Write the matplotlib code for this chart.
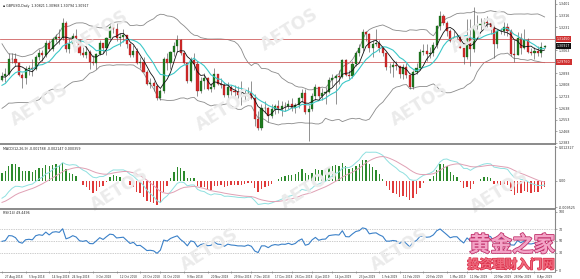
import numpy as np
import pandas as pd
import matplotlib
matplotlib.use("Agg")
import matplotlib.pyplot as plt
import matplotlib.patheffects as pe
import matplotlib.transforms as mtransforms
from matplotlib.lines import Line2D

plt.rcParams['font.family'] = ['DejaVu Sans']

# ---------------- data ----------------
symbol_title = "GBPUSD,Daily  1.30821 1.30968 1.30794 1.30917"
macd_title = "MACD(12,26,9) -0.001788 -0.002147 0.000359"
rsi_title = "RSI(14) 49.4496"

# closes before the first visible bar (only feed the indicators)
prior_close = [1.3125, 1.3175, 1.3205, 1.3230, 1.3275, 1.3240, 1.3245, 1.3220, 1.3195, 1.3230,
               1.3240, 1.3100, 1.3030, 1.2985, 1.3135, 1.3100, 1.3150, 1.3185, 1.3110, 1.3110,
               1.3125, 1.3120,
               1.3130, 1.2995, 1.2995, 1.2945, 1.2925, 1.2895, 1.2855, 1.2765, 1.2780, 1.2755,
               1.2705, 1.2720, 1.2745, 1.2790, 1.2900, 1.2895, 1.2820, 1.2845]

first_open = 1.2845
close = [
    # Aug 27 - 31
    1.2875, 1.2890, 1.3000, 1.2995, 1.2965,
    # Sep
    1.2880, 1.2855, 1.2925, 1.2935, 1.2925, 1.3015, 1.3040, 1.3030, 1.3115, 1.3070,
    1.3145, 1.3160, 1.3150, 1.3265, 1.3070, 1.3105, 1.3165, 1.3135, 1.3045, 1.3030,
    # Oct
    1.3050, 1.2975, 1.2970, 1.3035, 1.3115, 1.3075, 1.3150, 1.3230, 1.3220, 1.3150,
    1.3160, 1.3170, 1.3105, 1.3030, 1.3055, 1.2970, 1.2975, 1.2905, 1.2815, 1.2820,
    1.2800, 1.2710, 1.2765,
    # Nov
    1.3000, 1.2970, 1.3050, 1.3095, 1.3135, 1.3040, 1.2965, 1.2840, 1.2990, 1.2960,
    1.2760, 1.2835, 1.2860, 1.2780, 1.2790, 1.2885, 1.2815, 1.2805, 1.2735, 1.2795,
    1.2765, 1.2755,
    # Dec
    1.2735, 1.2735, 1.2725, 1.2750, 1.2715, 1.2560, 1.2495, 1.2640, 1.2640, 1.2580,
    1.2630, 1.2650, 1.2635, 1.2655, 1.2650, 1.2670, 1.2640, 1.2660, 1.2715, 1.2750,
    # Jan
    1.2610, 1.2630, 1.2725, 1.2790, 1.2725, 1.2750, 1.2755, 1.2845, 1.2860, 1.2870,
    1.2865, 1.2990, 1.2880, 1.2875, 1.2960, 1.3045, 1.3075, 1.3195, 1.3180, 1.3080,
    1.3105, 1.3115,
    # Feb
    1.3075, 1.3045, 1.2940, 1.2940, 1.2955, 1.2945, 1.2890, 1.2940, 1.2880, 1.2795,
    1.2900, 1.2935, 1.3050, 1.3060, 1.3035, 1.3045, 1.3100, 1.3240, 1.3315, 1.3260,
    # Mar
    1.3200, 1.3130, 1.3160, 1.3160, 1.3080, 1.3010, 1.3150, 1.3070, 1.3240, 1.3245,
    1.3255, 1.3270, 1.3260, 1.3235, 1.3110, 1.3205, 1.3200, 1.3230, 1.3200, 1.3035,
    1.3030,
    # Apr
    1.3150, 1.3080, 1.3140, 1.3050, 1.3040, 1.3060, 1.3045, 1.3082, 1.30917]

high = [
    1.2905, 1.2930, 1.3045, 1.3040, 1.3045,
    1.2975, 1.2895, 1.2945, 1.2955, 1.2995, 1.3030, 1.3070, 1.3065, 1.3140, 1.3140,
    1.3160, 1.3180, 1.3215, 1.3298, 1.3275, 1.3145, 1.3185, 1.3215, 1.3145, 1.3085,
    1.3095, 1.3065, 1.3030, 1.3045, 1.3135, 1.3115, 1.3160, 1.3245, 1.3255, 1.3260,
    1.3190, 1.3215, 1.3175, 1.3115, 1.3100, 1.3075, 1.3010, 1.3010, 1.2920, 1.2855,
    1.2840, 1.2815, 1.2780,
    1.3010, 1.3040, 1.3055, 1.3125, 1.3175, 1.3145, 1.3045, 1.2965, 1.3010, 1.3040,
    1.2985, 1.2865, 1.2895, 1.2865, 1.2820, 1.2930, 1.2890, 1.2855, 1.2830, 1.2830,
    1.2810, 1.2810,
    1.2800, 1.2840, 1.2770, 1.2790, 1.2840, 1.2740, 1.2620, 1.2670, 1.2690, 1.2645,
    1.2665, 1.2670, 1.2700, 1.2690, 1.2685, 1.2700, 1.2710, 1.2675, 1.2720, 1.2775,
    1.2775, 1.2660, 1.2750, 1.2815, 1.2795, 1.2785, 1.2790, 1.2865, 1.2890, 1.2890,
    1.2920, 1.3000, 1.3000, 1.2920, 1.2985, 1.3055, 1.3110, 1.3215, 1.3200, 1.3190,
    1.3135, 1.3215,
    1.3140, 1.3085, 1.3050, 1.2965, 1.2980, 1.2985, 1.2950, 1.2960, 1.2965, 1.2885,
    1.2920, 1.2965, 1.3070, 1.3110, 1.3110, 1.3085, 1.3120, 1.3250, 1.3350, 1.3325,
    1.3275, 1.3220, 1.3200, 1.3180, 1.3175, 1.3080, 1.3290, 1.3290, 1.3380, 1.3320,
    1.3300, 1.3295, 1.3315, 1.3290, 1.3245, 1.3210, 1.3225, 1.3270, 1.3260, 1.3220,
    1.3140,
    1.3195, 1.3185, 1.3215, 1.3155, 1.3075, 1.3085, 1.3095, 1.3120, 1.30968]

low = [
    1.2840, 1.2830, 1.2880, 1.2965, 1.2950,
    1.2870, 1.2785, 1.2815, 1.2880, 1.2870, 1.2920, 1.2990, 1.2985, 1.3010, 1.3055,
    1.3060, 1.3120, 1.3105, 1.3140, 1.3050, 1.3045, 1.3090, 1.3120, 1.3030, 1.3010,
    1.3005, 1.2925, 1.2955, 1.2925, 1.3025, 1.3040, 1.3030, 1.3140, 1.3185, 1.3130,
    1.3090, 1.3120, 1.3080, 1.3010, 1.3010, 1.2960, 1.2935, 1.2900, 1.2810, 1.2785,
    1.2765, 1.2695, 1.2700,
    1.2745, 1.2915, 1.2925, 1.3020, 1.3050, 1.3030, 1.2960, 1.2825, 1.2830, 1.2915,
    1.2725, 1.2750, 1.2780, 1.2770, 1.2755, 1.2780, 1.2805, 1.2785, 1.2720, 1.2700,
    1.2735, 1.2725,
    1.2715, 1.2660, 1.2690, 1.2700, 1.2705, 1.2505, 1.2475, 1.2480, 1.2600, 1.2535,
    1.2565, 1.2595, 1.2605, 1.2580, 1.2615, 1.2630, 1.2615, 1.2605, 1.2640, 1.2685,
    1.2595, 1.2400, 1.2620, 1.2700, 1.2710, 1.2700, 1.2670, 1.2745, 1.2800, 1.2670,
    1.2815, 1.2855, 1.2870, 1.2850, 1.2860, 1.2950, 1.3020, 1.3060, 1.3130, 1.3050,
    1.3010, 1.3090,
    1.3050, 1.3020, 1.2920, 1.2895, 1.2865, 1.2920, 1.2855, 1.2850, 1.2860, 1.2775,
    1.2780, 1.2890, 1.2920, 1.3030, 1.2985, 1.3005, 1.3020, 1.3080, 1.3210, 1.3245,
    1.3165, 1.3120, 1.3105, 1.3125, 1.3075, 1.2960, 1.3000, 1.2945, 1.3050, 1.3185,
    1.3210, 1.3225, 1.3230, 1.3180, 1.3005, 1.3080, 1.3180, 1.3170, 1.3165, 1.3020,
    1.2975,
    1.3030, 1.3035, 1.3070, 1.3040, 1.3025, 1.3000, 1.3020, 1.3015, 1.30794]

x_label_dates = ["2018-08-27", "2018-09-05", "2018-09-14", "2018-09-24", "2018-10-03",
                 "2018-10-12", "2018-10-23", "2018-10-31", "2018-11-09", "2018-11-20",
                 "2018-11-29", "2018-12-07", "2018-12-17", "2018-12-26", "2019-01-04",
                 "2019-01-14", "2019-01-23", "2019-02-01", "2019-02-11", "2019-02-20",
                 "2019-03-01", "2019-03-11", "2019-03-20", "2019-03-28", "2019-04-08"]
x_label_text = ["27 Aug 2018", "5 Sep 2018", "14 Sep 2018", "24 Sep 2018", "3 Oct 2018",
                "12 Oct 2018", "23 Oct 2018", "31 Oct 2018", "9 Nov 2018", "20 Nov 2018",
                "29 Nov 2018", "7 Dec 2018", "17 Dec 2018", "26 Dec 2018", "4 Jan 2019",
                "14 Jan 2019", "23 Jan 2019", "1 Feb 2019", "11 Feb 2019", "20 Feb 2019",
                "1 Mar 2019", "11 Mar 2019", "20 Mar 2019", "28 Mar 2019", "8 Apr 2019"]

price_ticks = [1.3401, 1.3316, 1.3231, 1.3063, 1.2893, 1.2808, 1.2723, 1.2638, 1.2553, 1.2468, 1.2383]
price_tick_text = ["1.3401", "1.3316", "1.3231", "1.3063", "1.2893", "1.2808", "1.2723",
                   "1.2638", "1.2553", "1.2468", "1.2383"]
resistance = 1.3145
support = 1.2976
last_price = 1.30917
macd_ticks = [0.012327, 0.0, -0.009525]
macd_tick_text = ["0.012327", "0.00", "-0.009525"]
rsi_ticks = [100, 70, 50, 30, 0]
rsi_levels = [70, 50, 30]

# ---------------- indicators ----------------
n = len(close)
opens = [first_open] + close[:-1]
c_all = pd.Series(prior_close + close)
n0 = len(prior_close)
mid = c_all.rolling(20).mean()
sd = c_all.rolling(20).std(ddof=0)
bb_up = (mid + 2 * sd).iloc[n0:].values
bb_lo = (mid - 2 * sd).iloc[n0:].values
ma_fast = c_all.rolling(5).mean().iloc[n0:].values
ma_slow = c_all.rolling(10).mean().iloc[n0:].values
ema12 = c_all.ewm(span=12, adjust=False).mean()
ema26 = c_all.ewm(span=26, adjust=False).mean()
dif = ema12 - ema26
dea = dif.ewm(span=9, adjust=False).mean()
bar_v = (2 * (dif - dea)).iloc[n0:].values
dif_v = dif.iloc[n0:].values
dea_v = dea.iloc[n0:].values
d = c_all.diff()
ag = d.clip(lower=0).ewm(alpha=1 / 14, adjust=False).mean()
al = (-d.clip(upper=0)).ewm(alpha=1 / 14, adjust=False).mean()
rsi = (100 - 100 / (1 + ag / al)).iloc[n0:].values

dates = pd.bdate_range("2018-08-27", "2019-04-30")
dates = dates[~dates.isin(pd.to_datetime(["2018-12-25", "2019-01-01"]))][:n]
x = np.arange(n)

# ---------------- figure ----------------
W, H = 580, 279
fig = plt.figure(figsize=(W / 100, H / 100), dpi=100)
fig.patch.set_facecolor("white")
PW = 555


def box(y0, y1):
    return [0, 1 - y1 / H, PW / W, (y1 - y0) / H]


ax1 = fig.add_axes(box(0, 144))
ax2 = fig.add_axes(box(146, 208))
ax3 = fig.add_axes(box(210, 271))

px = 3.37
xlim = (-2 / px, (PW - 2) / px)
fs = 2.3
fsx = 2.0
tick_col = "#333333"

# watermark AETOS
wm_pos = [(100, 32), (290, 30), (480, 32), (40, 105), (225, 110), (420, 105),
          (120, 190), (310, 188), (500, 192), (210, 250), (400, 250)]
for (wx, wy) in wm_pos:
    fig.text(wx / W, 1 - wy / H, "AETOS", fontsize=12.5, fontweight="bold", color="#ebebeb",
             rotation=32, ha="center", va="center", zorder=0)

for ax in (ax1, ax2, ax3):
    ax.set_facecolor("none")
    ax.set_xlim(*xlim)
    for s in ("top", "left", "bottom"):
        ax.spines[s].set_visible(False)
    ax.spines["right"].set_color("#888888")
    ax.spines["right"].set_linewidth(0.8)
    ax.yaxis.tick_right()
    ax.tick_params(axis="y", labelsize=fs, length=1.5, width=0.4, pad=1, colors="#666666",
                   labelcolor=tick_col)
    ax.tick_params(axis="x", length=0, labelbottom=False)

# ----- main price panel -----
ax1.set_ylim(1.2375, 1.3430)
ax1.plot(x, bb_up, color="#8a8a8a", lw=0.6)
ax1.plot(x, bb_lo, color="#8a8a8a", lw=0.6)
ax1.axhline(resistance, color="#d06060", lw=0.6)
ax1.axhline(support, color="#d06060", lw=0.6)
o = np.array(opens); c = np.array(close); hi = np.array(high); lo = np.array(low)
up = c >= o
ax1.vlines(x, lo, hi, color="#555555", lw=0.45, zorder=3)
ax1.bar(x[up], (c - o)[up], bottom=o[up], width=0.62, color="#1f7a1f", edgecolor="#155015",
        linewidth=0.2, zorder=4)
ax1.bar(x[~up], (c - o)[~up], bottom=o[~up], width=0.62, color="#d42a2a", edgecolor="#8a1515",
        linewidth=0.2, zorder=4)
ax1.plot(x, ma_slow, color="#3cc8c8", lw=0.8, zorder=5)
ax1.plot(x, ma_fast, color="#111111", lw=0.6, zorder=6)
ax1.set_yticks(price_ticks)
ax1.set_yticklabels(price_tick_text)
for val, fc in ((resistance, "#d03030"), (support, "#d03030"), (last_price, "#111111")):
    ax1.annotate(f"{val:.5f}", xy=(1.0, val), xycoords=("axes fraction", "data"),
                 xytext=(1.5, 0), textcoords="offset points", fontsize=fs, color="white",
                 va="center", ha="left", annotation_clip=False,
                 bbox=dict(boxstyle="square,pad=0.25", fc=fc, ec="none"))
ax1.text(0.006, 0.972, "\u25aa " + symbol_title, transform=ax1.transAxes, fontsize=fs,
         color="#222222", va="top", ha="left")

# ----- MACD panel -----
ax2.set_ylim(-0.00979, 0.01269)
hc = np.where(bar_v >= 0, "#2c8a2c", "#e03a3a")
ax2.bar(x, bar_v, width=0.4, color=hc, zorder=3)
ax2.plot(x, dif_v, color="#8fe0e0", lw=0.7, zorder=4)
ax2.plot(x, dea_v, color="#e0a0b4", lw=0.7, zorder=4)
ax2.set_yticks(macd_ticks)
ax2.set_yticklabels(macd_tick_text)
ax2.text(0.006, 0.985, macd_title, transform=ax2.transAxes, fontsize=fs, color="#222222",
         va="top", ha="left")

# ----- RSI panel -----
ax3.set_ylim(-1.7, 103.4)
for lv in rsi_levels:
    ax3.axhline(lv, color="#999999", lw=0.5, ls=(0, (1, 1.5)))
ax3.plot(x, rsi, color="#3a80c8", lw=0.8, zorder=4)
ax3.set_yticks(rsi_ticks)
ax3.set_yticklabels([str(t) for t in rsi_ticks])
ax3.text(0.006, 0.985, rsi_title, transform=ax3.transAxes, fontsize=fs, color="#222222",
         va="top", ha="left")
xt = [int(np.searchsorted(dates, pd.Timestamp(dd))) for dd in x_label_dates]
ax3.set_xticks(xt)
ax3.set_xticklabels(x_label_text)
ax3.tick_params(axis="x", labelbottom=True, labelsize=fsx, length=1.5, width=0.4, pad=1.2,
                colors="#666666", labelcolor=tick_col)
shift = mtransforms.ScaledTranslation(3.0 / 100, 0, fig.dpi_scale_trans)
for lbl in ax3.get_xticklabels():
    lbl.set_ha("left")
    lbl.set_transform(lbl.get_transform() + shift)

# panel separators and frame
for yy in (144.5, 208.8):
    fig.add_artist(Line2D([0, PW / W], [1 - yy / H] * 2, color="#777777", lw=1.2))
fig.add_artist(Line2D([0, PW / W], [1 - 271.5 / H] * 2, color="#888888", lw=0.6))

# chinese watermark
fig.text(512 / W, 1 - 245 / H, "黄金之家", fontsize=15.5, color="#f3a3c6",
         family=["Noto Sans CJK SC", "DejaVu Sans"], fontweight="bold", ha="center", va="center",
         path_effects=[pe.withStroke(linewidth=1.2, foreground="#c0306a")], zorder=10)
fig.text(511 / W, 1 - 265 / H, "投资理财入门网", fontsize=9, color="#f06a7e",
         family=["Noto Sans CJK SC", "DejaVu Sans"], fontweight="bold", ha="center", va="center",
         path_effects=[pe.withStroke(linewidth=1.0, foreground="#d8304a")], zorder=10)

fig.savefig("out.png", dpi=100, facecolor="white")
